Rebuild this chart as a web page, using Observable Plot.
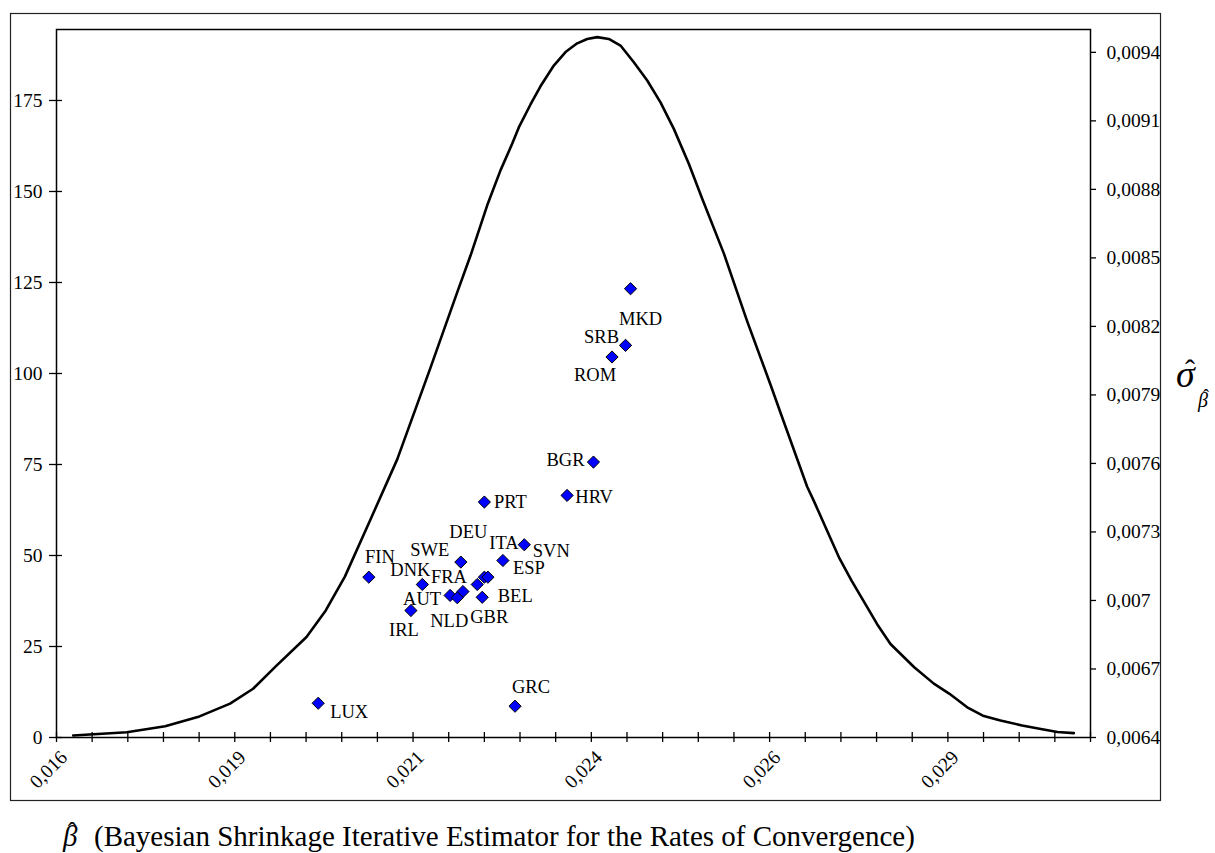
<!DOCTYPE html>
<html><head><meta charset="utf-8">
<script src="https://cdn.jsdelivr.net/npm/d3@7"></script>
<script src="https://cdn.jsdelivr.net/npm/@observablehq/plot@0.6"></script>
<style>body{margin:0;background:#fff} svg{display:block}</style>
</head><body><div id="chart"></div>
<script>
// ---- data ----
const countries = ["FIN","DNK","SWE","DEU","ESP","ITA","SVN","FRA","AUT","NLD","GBR","BEL","IRL","PRT","HRV","BGR","MKD","SRB","ROM","LUX","GRC"];
const beta  = [0.02038,0.02113,0.02167,0.02200,0.02205,0.02226,0.02256,0.02170,0.02152,0.02162,0.02190,0.02197,0.02097,0.02200,0.02316,0.02353,0.02405,0.02398,0.02379,0.01967,0.02243];
const sigma = [0.007102,0.007070,0.007168,0.007102,0.007102,0.007175,0.007244,0.007039,0.007022,0.007012,0.007070,0.007014,0.006956,0.007431,0.007460,0.007606,0.008365,0.008117,0.008066,0.006550,0.006537];

const curveBeta = [0.016234,0.016986,0.017523,0.018005,0.018434,0.018757,0.019078,0.019506,0.019776,0.020044,0.020403,0.020778,0.021245,0.021619,0.021806,0.022040,0.022226,0.022390,0.022483,0.022647,0.022787,0.022974,0.023138,0.023302,0.023442,0.023582,0.023745,0.023909,0.024096,0.024284,0.024470,0.024657,0.024867,0.025055,0.025358,0.025686,0.026013,0.026153,0.026527,0.026620,0.026980,0.027149,0.027395,0.027506,0.027695,0.028028,0.028303,0.028523,0.028771,0.028991,0.029238,0.029541,0.029785,0.030036,0.030266];
const curveDensity = [0.55,1.46,3.1,5.8,9.3,13.4,19.6,27.6,34.9,44.2,59.9,76.4,101.6,122.3,132.4,146.2,155.8,163.1,167.6,173.9,178.9,184.6,188.3,190.7,191.9,192.4,191.9,190.1,185.5,180.5,174.5,167.2,157.6,148.0,133.0,114.3,96.9,89.2,68.9,65.0,49.2,43.1,34.9,31.2,25.7,19.3,14.8,12.0,8.3,6.0,4.7,3.3,2.4,1.5,1.2];

const xDomain = [0.016, 0.0305];
const densityDomain = [0, 194.5];
const sigmaDomain = [0.0064, 0.0095];

const xMinorTicks = [0.016,0.0165,0.017,0.0175,0.018,0.0185,0.019,0.0195,0.02,0.0205,0.021,0.0215,0.022,0.0225,0.023,0.0235,0.024,0.0245,0.025,0.0255,0.026,0.0265,0.027,0.0275,0.028,0.0285,0.029,0.0295,0.03,0.0305];
const xMajorTicks = [0.016,0.0185,0.021,0.0235,0.026,0.0285];
const xTickLabels = ["0,016","0,019","0,021","0,024","0,026","0,029"];
const leftTicks = [0,25,50,75,100,125,150,175];
const leftTickLabels = ["0","25","50","75","100","125","150","175"];
const rightTicks = [0.0064,0.0067,0.0070,0.0073,0.0076,0.0079,0.0082,0.0085,0.0088,0.0091,0.0094];
const rightTickLabels = ["0,0064","0,0067","0,007","0,0073","0,0076","0,0079","0,0082","0,0085","0,0088","0,0091","0,0094"];

// label placement (pixel offsets from each marker)
const labelDx = {FIN:11,DNK:-12,SWE:-31,DEU:-16,ESP:41,ITA:1,SVN:27,FRA:-14,AUT:-28,NLD:-8,GBR:12,BEL:33,IRL:-7,PRT:26,HRV:27,BGR:-28,MKD:10,SRB:-24,ROM:-17,LUX:31,GRC:16};
const labelDy = {FIN:-20,DNK:-14,SWE:-12,DEU:-45,ESP:-9,ITA:-17,SVN:6,FRA:-14,AUT:4,NLD:23,GBR:33,BEL:-1,IRL:20,PRT:0,HRV:2,BGR:-2,MKD:30,SRB:-8,ROM:18,LUX:9,GRC:-19};

// ---- build ----
const toLeft = s => (s - sigmaDomain[0]) / (sigmaDomain[1] - sigmaDomain[0]) * densityDomain[1];
const points = countries.map((c, i) => ({country: c, beta: beta[i], sigma: sigma[i]}));
const curve = curveBeta.map((b, i) => ({beta: b, density: curveDensity[i]}));
const rightTicksL = rightTicks.map(toLeft);

const font = "'Liberation Serif','Times New Roman',serif";
const tickFont = 19.5;

const plot = Plot.plot({
  width: 1215, height: 853,
  marginLeft: 56, marginRight: 125, marginTop: 29, marginBottom: 116,
  style: {fontFamily: font, fontSize: "19px", background: "white", color: "black"},
  x: {domain: xDomain, axis: null},
  y: {domain: densityDomain, axis: null},
  marks: [
    Plot.frame({stroke: "black", strokeWidth: 1.5}),
    Plot.ruleX(xMinorTicks, {x: d => d, y1: densityDomain[0], y2: densityDomain[0], insetTop: 5, insetBottom: 5, stroke: "black", strokeWidth: 1.3}),
    Plot.ruleY(leftTicks, {y: d => d, x1: xDomain[0], x2: xDomain[0], insetLeft: 6, insetRight: 7, stroke: "black", strokeWidth: 1.3}),
    Plot.ruleY(rightTicksL, {y: d => d, x1: xDomain[1], x2: xDomain[1], insetLeft: 0, insetRight: -6, stroke: "black", strokeWidth: 1.3}),
    Plot.text(leftTicks, {y: d => d, frameAnchor: "left", dx: -14, textAnchor: "end", text: (d, i) => leftTickLabels[i], fontSize: tickFont}),
    Plot.text(rightTicksL, {y: d => d, frameAnchor: "right", dx: 16, textAnchor: "start", text: (d, i) => rightTickLabels[i], fontSize: tickFont}),
    Plot.text(xMajorTicks, {x: d => d, frameAnchor: "bottom", rotate: -45, textAnchor: "end", dx: 12, dy: 21, text: (d, i) => xTickLabels[i], fontSize: tickFont}),
    Plot.line(curve, {x: "beta", y: "density", stroke: "black", strokeWidth: 2.6, strokeLinejoin: "round"}),
    Plot.dot(points, {x: "beta", y: d => toLeft(d.sigma), symbol: "diamond2", r: 5.5, fill: "#0000ff", stroke: "black", strokeWidth: 1}),
    ...points.map(p => Plot.text([p], {x: "beta", y: d => toLeft(d.sigma), text: "country", dx: labelDx[p.country], dy: labelDy[p.country], fontSize: 18.5, fill: "black"}))
  ]
});

const svg = d3.select(plot);
svg.insert("rect", ":first-child").attr("x", 10.5).attr("y", 13.5).attr("width", 1150).attr("height", 787)
  .attr("fill", "none").attr("stroke", "#222").attr("stroke-width", 1.2);
const deco = svg.append("g").attr("font-family", font).attr("text-anchor", "start").attr("fill", "black");
// x-axis title
deco.append("text").attr("x", 63).attr("y", 846).attr("font-size", 29).attr("font-style", "italic").text("\u03B2");
deco.append("text").attr("x", 72).attr("y", 840).attr("font-size", 26).attr("text-anchor", "middle").text("\u02C6");
deco.append("text").attr("x", 94).attr("y", 846).attr("font-size", 29).text("(Bayesian Shrinkage Iterative Estimator for the Rates of Convergence)");
// right axis title
deco.append("text").attr("x", 1176).attr("y", 387).attr("font-size", 38).attr("font-style", "italic").text("\u03C3");
deco.append("text").attr("x", 1190).attr("y", 380).attr("font-size", 30).attr("text-anchor", "middle").text("\u02C6");
deco.append("text").attr("x", 1198).attr("y", 407).attr("font-size", 20).attr("font-style", "italic").text("\u03B2");
deco.append("text").attr("x", 1206).attr("y", 402).attr("font-size", 18).attr("text-anchor", "middle").text("\u02C6");
document.getElementById("chart").appendChild(plot);
</script>
</body></html>
